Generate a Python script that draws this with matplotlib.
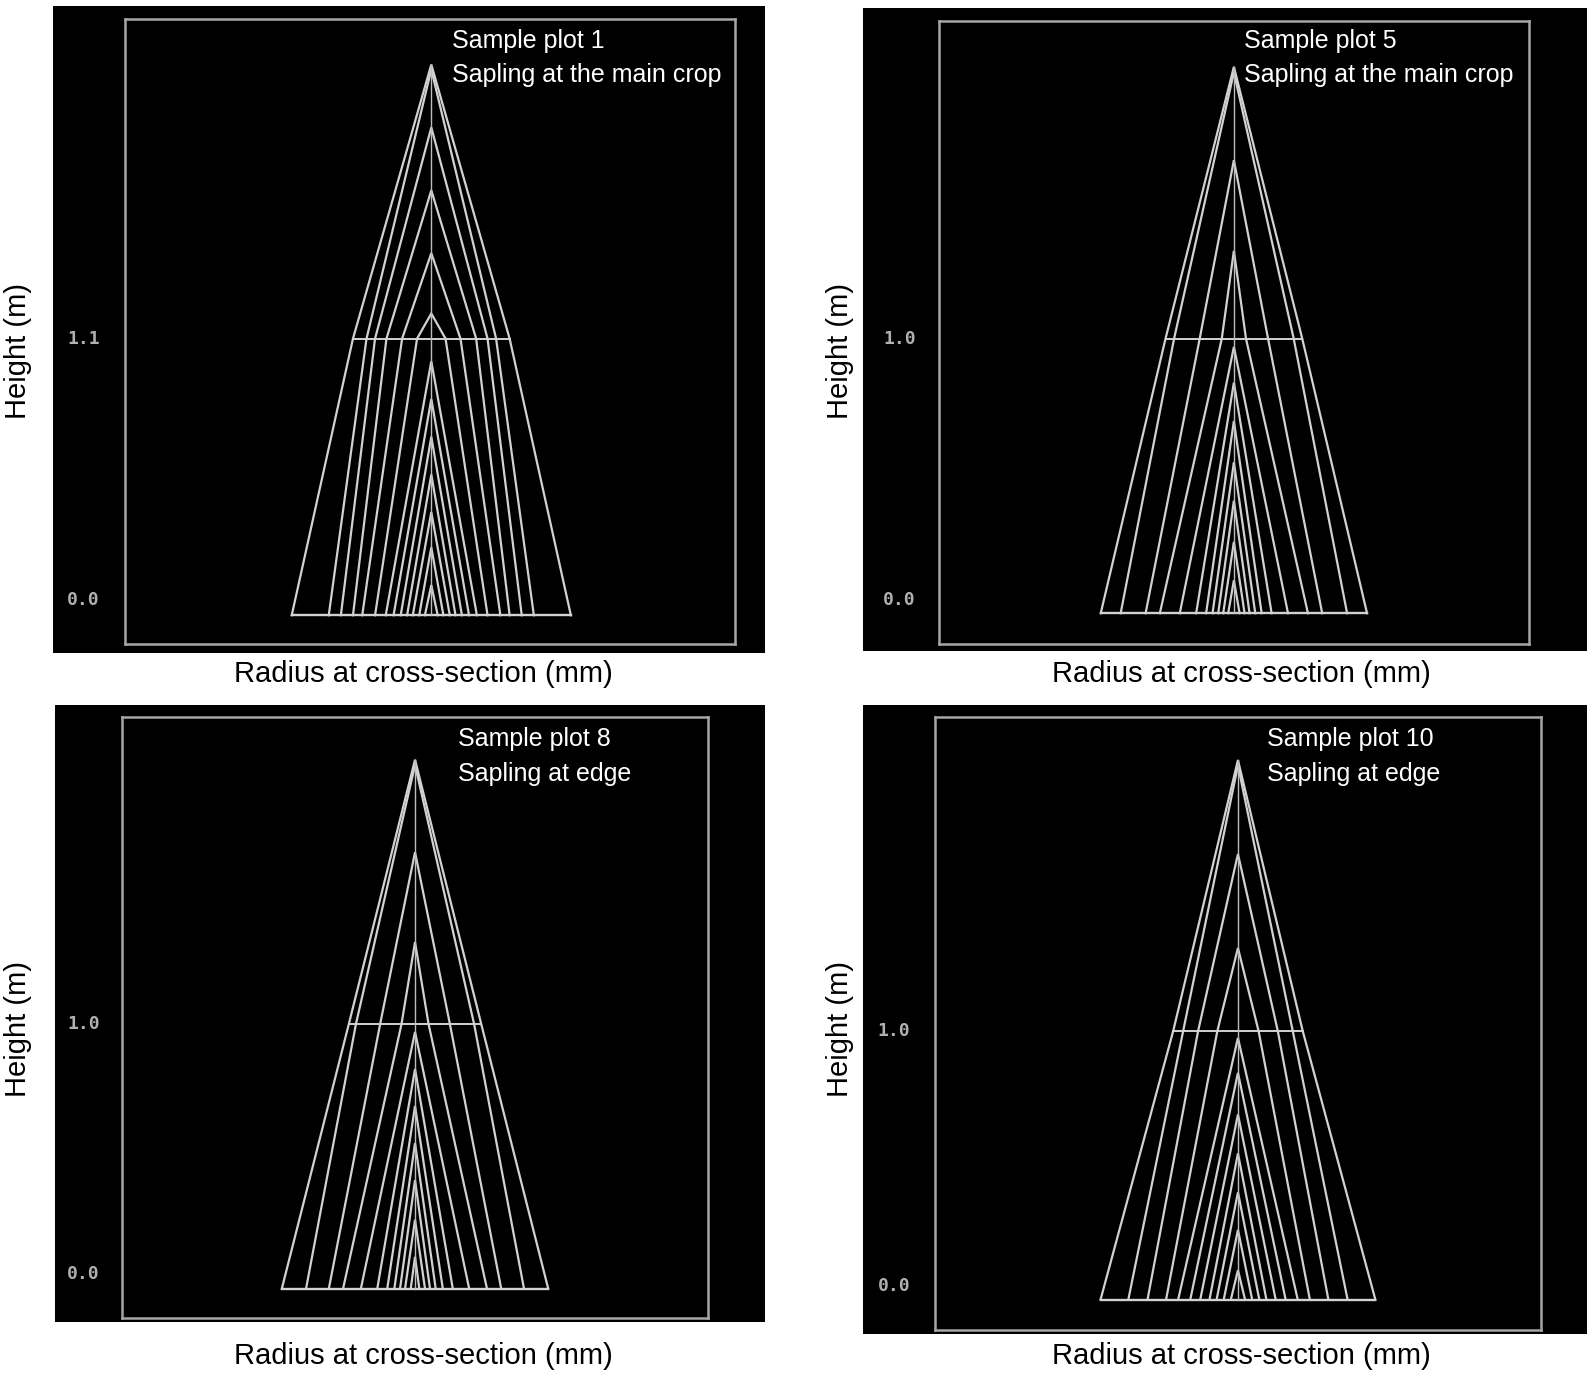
import matplotlib

matplotlib.use("Agg")
import matplotlib.pyplot as plt
from matplotlib import font_manager
from matplotlib.patches import Rectangle

# growth layers per sample plot: tip height (m), base radius (mm),
# radius at the cross-section height (mm) for layers that reach it
p1_tips = [2.19, 2.17, 1.94, 1.69, 1.44, 1.20, 1.01, 0.86, 0.71, 0.56, 0.41, 0.27, 0.12]
p1_base = [19.6, 14.4, 12.7, 11.0, 9.7, 7.9, 6.4, 5.3, 4.3, 3.4, 2.6, 1.7, 0.9]
p1_sect = [11.0, 9.1, 7.9, 6.3, 4.1, 2.0]

p5_tips = [1.99, 1.97, 1.65, 1.32, 0.97, 0.84, 0.70, 0.55, 0.41, 0.26, 0.12]
p5_base = [18.7, 15.9, 12.4, 10.4, 7.6, 5.3, 3.9, 3.0, 2.2, 1.5, 0.8]
p5_sect = [9.6, 8.4, 4.8, 1.7]

p8_tips = [2.00, 1.98, 1.65, 1.31, 0.97, 0.83, 0.69, 0.55, 0.41, 0.26, 0.12]
p8_base = [18.7, 15.3, 12.1, 10.1, 7.6, 5.3, 3.9, 2.9, 2.1, 1.4, 0.6]
p8_sect = [9.3, 8.3, 4.9, 1.9]

p10_tips = [2.01, 1.99, 1.66, 1.31, 0.975, 0.845, 0.69, 0.545, 0.40, 0.26, 0.11]
p10_base = [19.3, 15.4, 12.7, 10.1, 8.4, 6.7, 5.3, 4.0, 3.0, 2.0, 1.0]
p10_sect = [9.1, 7.7, 5.6, 2.9]

section_heights = [1.1, 1.0, 1.0, 1.0]
section_labels = ["1.1", "1.0", "1.0", "1.0"]
titles = ["Sample plot 1", "Sample plot 5", "Sample plot 8", "Sample plot 10"]
subtitles = ["Sapling at the main crop", "Sapling at the main crop",
             "Sapling at edge", "Sapling at edge"]

W_REF, H_REF = 1568.0, 1355.0
PX_PER_MM = 7.0

# layout in reference pixels: black box, frame box, stem centre x, base y, section y
panels = [
    dict(black=(52, 6, 752, 642), frame=(123, 19, 723, 633), cx=424, base=605, sect=333,
         text=(444, 40), lab0=590, ylab=(18, 345), xlab=(416, 663), tick_x=82),
    dict(black=(848, 8, 1560, 640), frame=(923, 21, 1503, 633), cx=1213, base=603, sect=333,
         text=(1223, 40), lab0=590, ylab=(826, 345), xlab=(1220, 663), tick_x=884),
    dict(black=(54, 693, 752, 1300), frame=(120, 705, 696, 1296), cx=408, base=1267, sect=1007,
         text=(450, 727), lab0=1253, ylab=(18, 1012), xlab=(416, 1333), tick_x=82),
    dict(black=(848, 693, 1560, 1312), frame=(919, 705, 1515, 1308), cx=1217, base=1278, sect=1014,
         text=(1246, 727), lab0=1265, ylab=(826, 1012), xlab=(1220, 1333), tick_x=879),
]
layers = [(p1_tips, p1_base, p1_sect), (p5_tips, p5_base, p5_sect),
          (p8_tips, p8_base, p8_sect), (p10_tips, p10_base, p10_sect)]


def pick_font(candidates):
    names = {f.name for f in font_manager.fontManager.ttflist}
    for name in candidates:
        if name in names:
            return name
    return "DejaVu Sans"


label_font = pick_font(["Liberation Sans Narrow", "Liberation Sans", "DejaVu Sans"])


def fx(x):
    return x / W_REF


def fy(y):
    return 1 - y / H_REF


fig = plt.figure(figsize=(15.95, 13.78), dpi=100)
fig.patch.set_facecolor("white")

line_color = "#d2d2d2"
frame_color = "#a6a6a6"

for spec, (tips, base, sect), hs, slab, title, sub in zip(
        panels, layers, section_heights, section_labels, titles, subtitles):
    bx0, by0, bx1, by1 = spec["black"]
    fig.patches.append(Rectangle((fx(bx0), fy(by1)), fx(bx1 - bx0), (by1 - by0) / H_REF,
                                 transform=fig.transFigure, facecolor="black",
                                 edgecolor="none", zorder=-10))

    x0, y0, x1, y1 = spec["frame"]
    ax = fig.add_axes([fx(x0), fy(y1), fx(x1 - x0), (y1 - y0) / H_REF])
    ax.set_zorder(2)
    ax.set_facecolor("black")
    px_per_m = (spec["base"] - spec["sect"]) / hs
    ax.set_xlim((x0 - spec["cx"]) / PX_PER_MM, (x1 - spec["cx"]) / PX_PER_MM)
    ax.set_ylim(-(y1 - spec["base"]) / px_per_m, (spec["base"] - y0) / px_per_m)
    ax.set_xticks([])
    ax.set_yticks([])
    for side in ax.spines.values():
        side.set_color(frame_color)
        side.set_linewidth(1.8)

    for i, (h, r) in enumerate(zip(tips, base)):
        if i < len(sect):
            s = sect[i]
            xs = [-r, -s, 0, s, r]
            ys = [0, hs, h, hs, 0]
        else:
            xs = [-r, 0, r]
            ys = [0, h, 0]
        ax.plot(xs, ys, color=line_color, lw=1.6, solid_joinstyle="miter")

    ax.plot([-max(base), max(base)], [0, 0], color=line_color, lw=1.7)
    ax.plot([-max(sect), max(sect)], [hs, hs], color=line_color, lw=1.4)
    ax.plot([0, 0], [0, max(tips)], color="#bdbdbd", lw=1.0)

    # tick labels of the original screen
    tick_ax = (spec["tick_x"] - x0) / (x1 - x0)
    lab0_h = (spec["base"] - spec["lab0"]) / px_per_m
    for val, txt in [(hs, slab), (lab0_h, "0.0")]:
        ax.text(tick_ax, val, txt, transform=ax.get_yaxis_transform(), ha="center", va="center",
                family="DejaVu Sans Mono", fontweight="bold", fontsize=13, color="#b0b0b0",
                clip_on=False)

    tx, ty = spec["text"]
    fig.text(fx(tx), fy(ty), title, ha="left", va="center", color="white",
             family=label_font, fontsize=18, zorder=5)
    fig.text(fx(tx), fy(ty + 34), sub, ha="left", va="center", color="white",
             family=label_font, fontsize=18, zorder=5)

    lx, ly = spec["ylab"]
    fig.text(fx(lx), fy(ly), "Height (m)", rotation=90, ha="center", va="center",
             color="black", family=label_font, fontsize=21)
    rx, ry = spec["xlab"]
    fig.text(fx(rx), fy(ry), "Radius at cross-section (mm)", ha="center", va="center",
             color="black", family=label_font, fontsize=21)

fig.savefig("out.png", dpi=100, facecolor="white")
plt.close(fig)
